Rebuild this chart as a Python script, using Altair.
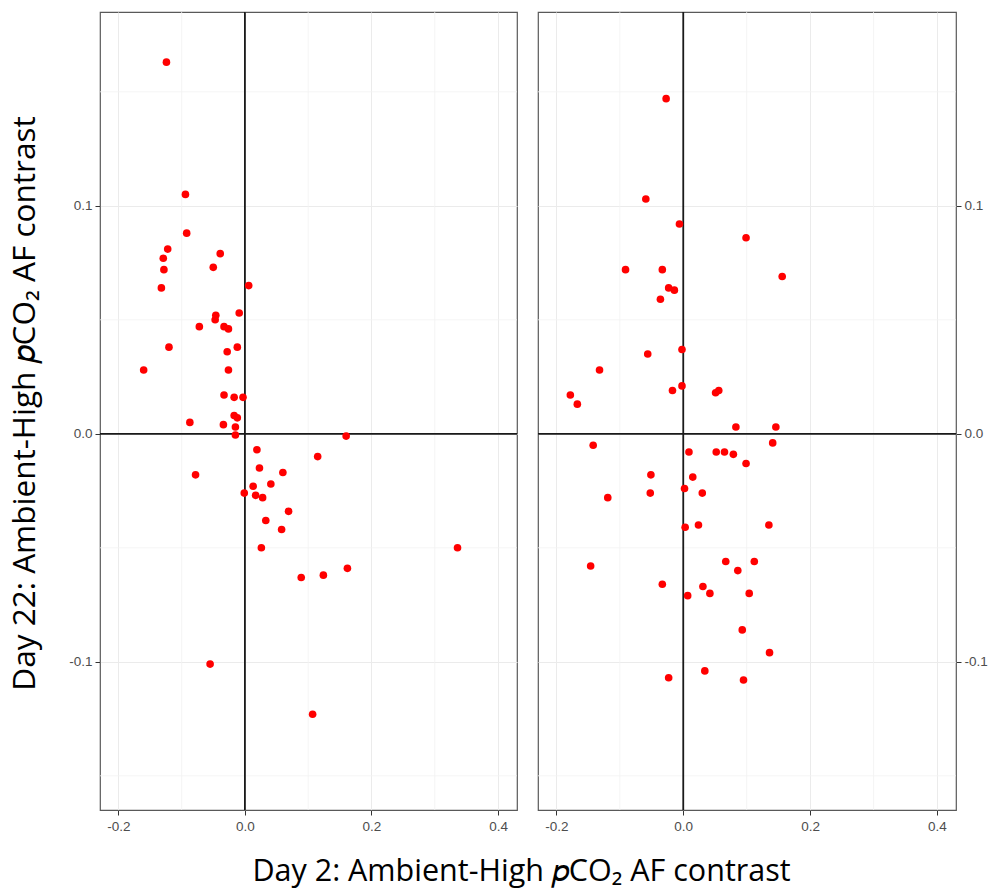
import altair as alt
import pandas as pd

# ---- data ----
left_x = [-0.124, -0.094, -0.092, -0.122, -0.129, -0.039, -0.128, -0.050, -0.132, 0.006,
          -0.009, -0.046, -0.047, -0.072, -0.033, -0.026, -0.120, -0.012, -0.028, -0.160,
          -0.026, -0.033, -0.017, -0.003, -0.017, -0.012, -0.087, -0.034, -0.015, -0.015,
          0.160, 0.019, 0.115, 0.023, 0.060, -0.078, 0.041, 0.013, -0.001, 0.017,
          0.028, 0.069, 0.033, 0.058, 0.026, 0.336, 0.162, 0.124, 0.089, -0.055, 0.107]
left_y = [0.163, 0.105, 0.088, 0.081, 0.077, 0.079, 0.072, 0.073, 0.064, 0.065,
          0.053, 0.052, 0.050, 0.047, 0.047, 0.046, 0.038, 0.038, 0.036, 0.028,
          0.028, 0.017, 0.016, 0.016, 0.008, 0.007, 0.005, 0.004, 0.003, -0.0005,
          -0.001, -0.007, -0.010, -0.015, -0.017, -0.018, -0.022, -0.023, -0.026, -0.027,
          -0.028, -0.034, -0.038, -0.042, -0.050, -0.050, -0.059, -0.062, -0.063, -0.101, -0.123]

right_x = [-0.027, -0.059, -0.006, 0.099, -0.091, -0.033, 0.156, -0.023, -0.014, -0.036,
           -0.056, -0.002, -0.132, -0.178, -0.167, -0.017, -0.002, 0.051, 0.056, 0.083,
           0.146, -0.142, 0.141, 0.009, 0.052, 0.065, 0.079, 0.099, -0.051, 0.015,
           0.002, -0.052, 0.030, -0.119, 0.003, 0.024, 0.135, -0.146, 0.067, 0.112,
           0.086, -0.033, 0.031, 0.042, 0.007, 0.104, 0.093, 0.136, 0.034, -0.023, 0.095]
right_y = [0.147, 0.103, 0.092, 0.086, 0.072, 0.072, 0.069, 0.064, 0.063, 0.059,
           0.035, 0.037, 0.028, 0.017, 0.013, 0.019, 0.021, 0.018, 0.019, 0.003,
           0.003, -0.005, -0.004, -0.008, -0.008, -0.008, -0.009, -0.013, -0.018, -0.019,
           -0.024, -0.026, -0.026, -0.028, -0.041, -0.040, -0.040, -0.058, -0.056, -0.056,
           -0.060, -0.066, -0.067, -0.070, -0.071, -0.070, -0.086, -0.096, -0.104, -0.107, -0.108]

x_major = [-0.2, 0.0, 0.2, 0.4]
x_minor = [-0.1, 0.1, 0.3]
y_major = [-0.1, 0.0, 0.1]
y_minor = [-0.15, -0.05, 0.05, 0.15]
zero_line = [0.0]

x_domain = [-0.229, 0.43]
y_domain = [-0.165, 0.185]

y_title = "Day 22: Ambient-High 𝑝CO₂ AF contrast"
x_title = "Day 2: Ambient-High 𝑝CO₂ AF contrast"

LABEL_EXPR = "datum.value < 0 ? '-' + format(-datum.value, '.1f') : format(datum.value, '.1f')"


def panel(xs, ys, yorient, ytitle, w):
    xs_ = alt.Scale(domain=x_domain, nice=False, zero=False)
    ys_ = alt.Scale(domain=y_domain, nice=False, zero=False)
    df = pd.DataFrame({"x": xs, "y": ys})

    yaxis_kw = dict(values=y_major, orient=yorient, grid=True, gridColor="#ebebeb",
                    domain=False, tickColor="#333333", tickSize=5, labelPadding=3,
                    labelColor="#4d4d4d", labelFontSize=13.5, labelFont="Liberation Sans",
                    labelExpr=LABEL_EXPR)
    if ytitle:
        yaxis_kw.update(title=ytitle, titleFont="Open Sans", titleFontSize=31.5,
                        titleFontWeight="normal", titleColor="#000000", titlePadding=27,
                        titleY=391)
    else:
        yaxis_kw.update(title=None)
    yaxis = alt.Axis(**yaxis_kw)
    xaxis = alt.Axis(values=x_major, title=None, grid=True, gridColor="#ebebeb", domain=False,
                     tickColor="#333333", tickSize=5, labelPadding=4, labelColor="#4d4d4d",
                     labelFontSize=13.5, labelFont="Liberation Sans", labelExpr=LABEL_EXPR)

    minor_x = alt.Chart(pd.DataFrame({"v": x_minor})).mark_rule(
        color="#f2f2f2", strokeWidth=0.8).encode(x=alt.X("v:Q", scale=xs_, axis=xaxis))
    minor_y = alt.Chart(pd.DataFrame({"v": y_minor})).mark_rule(
        color="#f2f2f2", strokeWidth=0.8).encode(y=alt.Y("v:Q", scale=ys_, axis=yaxis))
    vline = alt.Chart(pd.DataFrame({"v": zero_line})).mark_rule(
        color="#1a1a1a", strokeWidth=1.8).encode(x=alt.X("v:Q", scale=xs_, axis=xaxis))
    hline = alt.Chart(pd.DataFrame({"v": zero_line})).mark_rule(
        color="#1a1a1a", strokeWidth=1.8).encode(y=alt.Y("v:Q", scale=ys_, axis=yaxis))
    pts = alt.Chart(df).mark_circle(size=58, color="#ff0000", opacity=1).encode(
        x=alt.X("x:Q", scale=xs_, axis=xaxis),
        y=alt.Y("y:Q", scale=ys_, axis=yaxis),
    )
    return alt.layer(minor_x, minor_y, vline, hline, pts).properties(
        width=w, height=798,
        view=alt.ViewConfig(stroke="#595959", strokeWidth=1.2))


left = panel(left_x, left_y, "left", y_title, 417)
right = panel(right_x, right_y, "right", None, 418)

chart = alt.hconcat(left, right, spacing=21, bounds="flush").properties(
    title=alt.TitleParams(text=x_title, orient="bottom", anchor="middle", font="Open Sans",
                          fontSize=30.5, fontWeight="normal", color="#000000", offset=24,
                          dx=23),
    padding={"left": 9, "right": 3, "top": 10, "bottom": 0},
).configure(background="white")

chart.save("out.html", embed_options={"renderer": "svg", "actions": False})
